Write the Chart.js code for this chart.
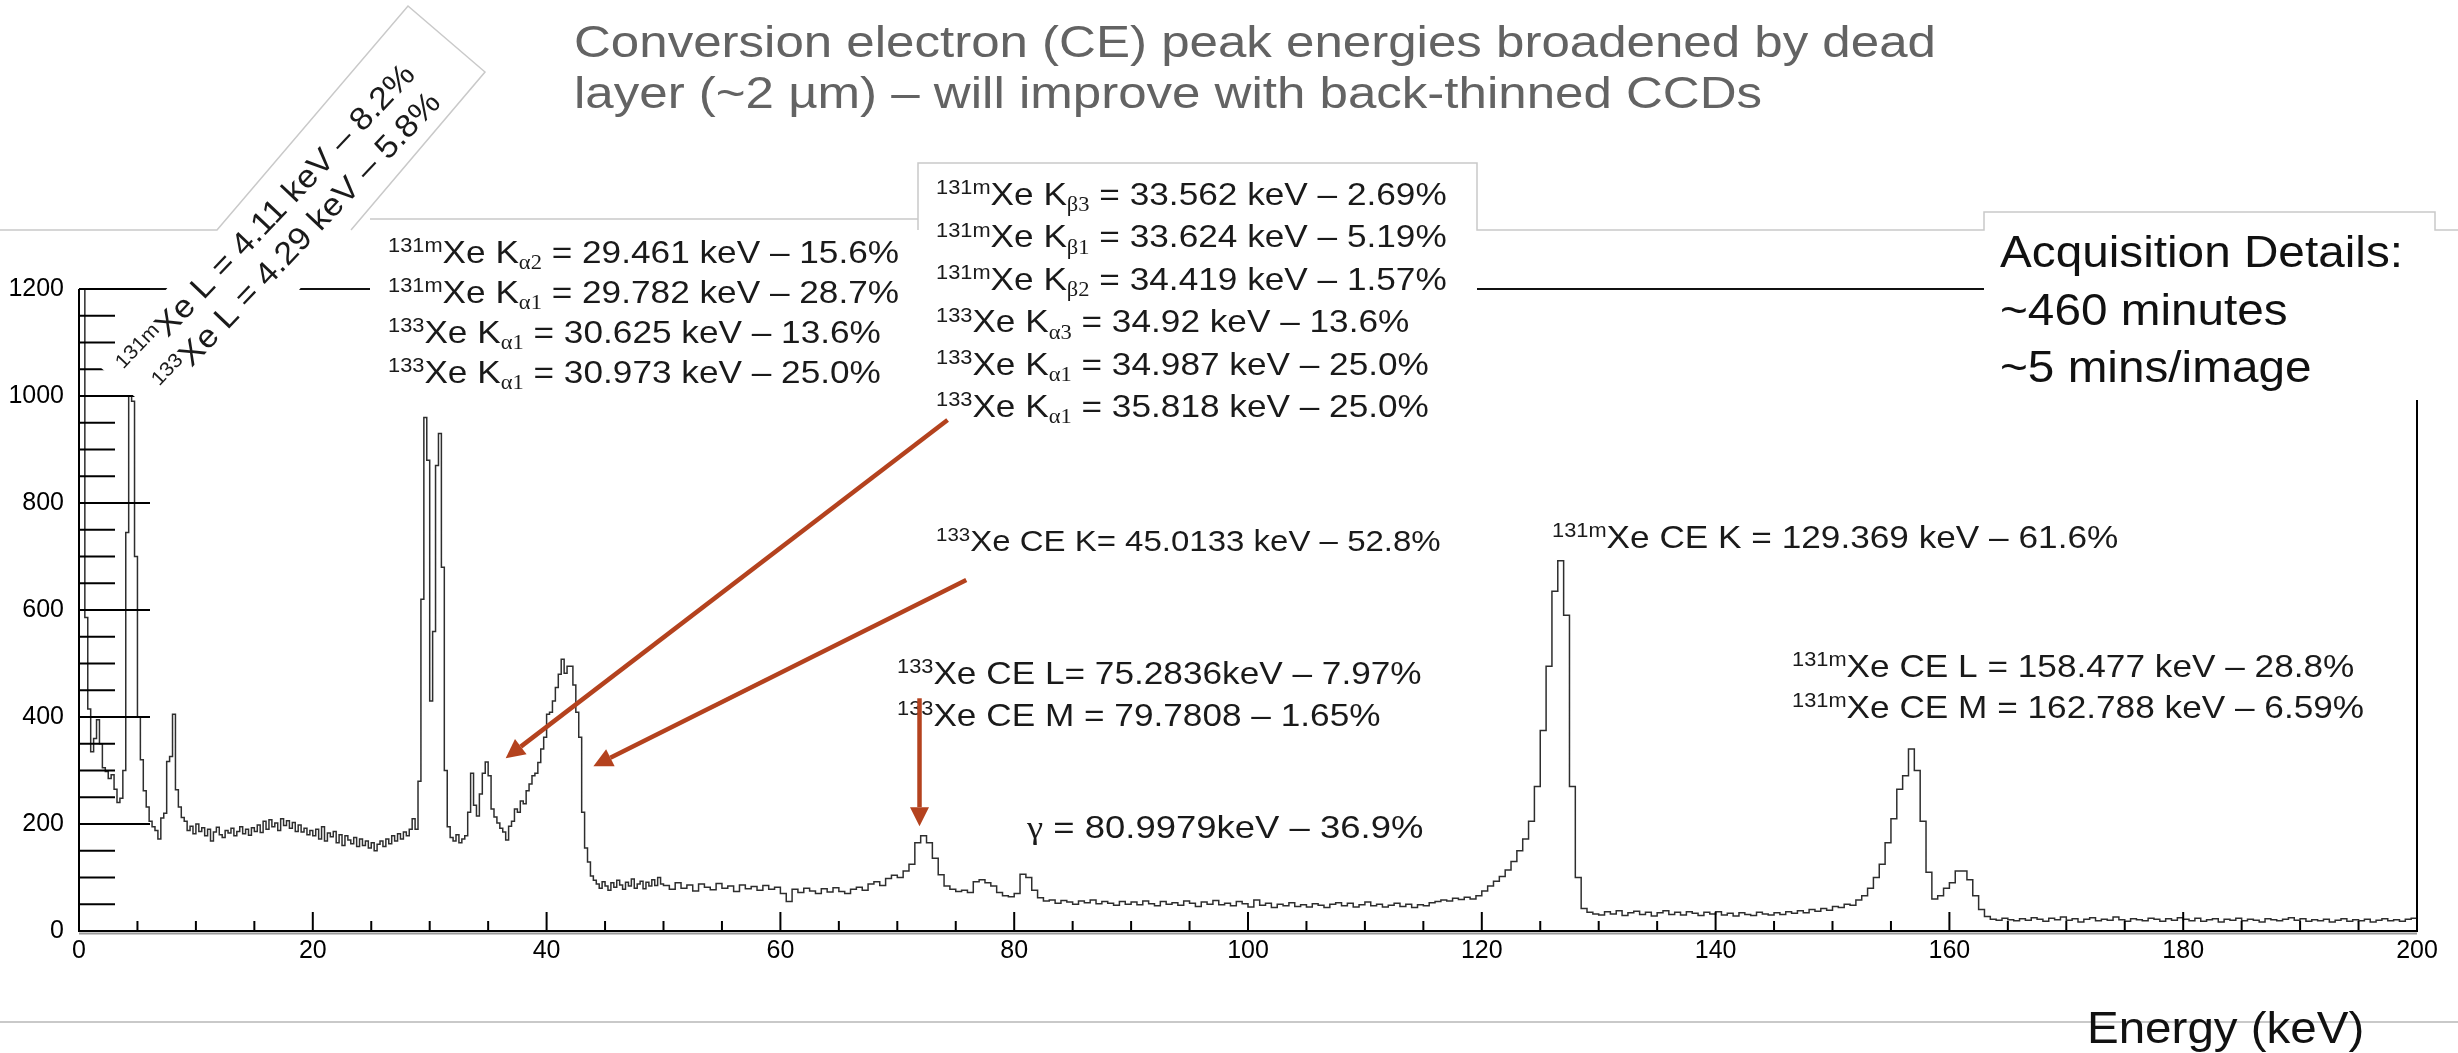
<!DOCTYPE html>
<html>
<head>
<meta charset="utf-8">
<title>Xe CCD spectrum</title>
<script src="https://cdn.jsdelivr.net/npm/chart.js@4.4.1/dist/chart.umd.min.js"></script>
<style>
  html, body { margin: 0; padding: 0; background: #fff; }
  #wrap { width: 2458px; height: 1053px; }
</style>
</head>
<body>
<div id="wrap"><canvas id="spectrum" width="2458" height="1053"></canvas></div>
<script>
// histogram: 0-50 keV in 0.25 keV bins, 50-200 keV in 0.5 keV bins
const fineBinWidth = 0.25;
const coarseStart = 50;
const coarseBinWidth = 0.5;

// one line = 1 keV
const countsFine = [
  1400, 1400, 586, 415,
  335, 360, 395, 350,
  305, 298, 285, 292,
  265, 240, 248, 300,
  745, 1000, 990, 700,
  400, 320, 262, 232,
  205, 195, 188, 172,
  211, 220, 317, 326,
  405, 264, 232, 212,
  205, 188, 196, 182,
  200, 186, 193, 178,
  190, 168, 185, 194,
  180, 175, 188, 183,
  192, 178, 186, 195,
  182, 190, 179, 193,
  186, 198, 184, 205,
  190, 208, 195, 202,
  188, 210, 197, 206,
  192, 203, 186, 198,
  185, 192, 180, 188,
  178, 190, 172, 195,
  168, 183, 176, 186,
  165, 180, 160, 178,
  170, 163, 175, 158,
  172, 160, 168, 155,
  165, 150, 162, 168,
  158, 172, 163, 178,
  168, 182, 172, 185,
  178, 190, 210, 190,
  280, 620, 960, 880,
  430, 560, 870, 930,
  680, 300, 195, 175,
  168, 180, 165, 172,
  178, 222, 295, 235,
  215, 256, 295, 316,
  290, 228, 213, 202,
  192, 185, 170, 196,
  205, 228, 222, 243,
  238, 262, 275, 290,
  295, 315, 340, 362,
  405, 409, 430, 455,
  480, 508, 482, 495,
  495, 460, 409, 362,
  222, 155, 129, 103,
  95, 88, 80, 92,
  84, 76, 90, 82,
  95, 86, 78, 91,
  84, 97, 80, 88,
  93, 79, 91, 84,
  96, 85, 100, 88
];

// one line = 5 keV
const countsCoarse = [
  85, 78, 90, 80, 86, 75, 88, 82, 77, 89,
  80, 84, 74, 86, 79, 83, 76, 85, 78, 82,
  70, 55, 78, 72, 80, 75, 70, 79, 73, 81,
  74, 70, 78, 82, 76, 88, 92, 85, 98, 104,
  100, 112, 125, 165, 178, 165, 136, 105, 84, 78,
  74, 76, 72, 92, 96, 90, 84, 72, 66, 64,
  70, 106, 100, 76, 62, 56, 58, 52, 57, 54,
  50, 56, 53, 58, 51, 55, 52, 48, 55, 50,
  54, 49, 56, 51, 47, 55, 50, 53, 48, 56,
  52, 46, 54, 50, 57, 49, 52, 47, 55, 51,
  45, 58, 48, 52, 44, 50, 47, 53, 46, 49,
  45, 51, 48, 44, 50, 53, 47, 52, 45, 49,
  54, 47, 50, 45, 48, 52, 46, 50, 44, 49,
  47, 53, 55, 58, 56, 61, 59, 63, 60, 66,
  75, 84, 93, 102, 114, 130, 150, 172, 205, 270,
  375, 495, 635, 692, 590, 270, 100, 42, 35, 32,
  30, 36, 32, 38, 29, 34, 37, 31, 35, 28,
  34, 38, 31, 35, 30, 36, 33, 29, 35, 32,
  36, 30, 33, 28, 34, 31, 29, 35, 32, 30,
  34, 31, 36, 33, 38, 34, 40, 37, 42, 39,
  46, 44, 50, 48, 58, 66, 80, 100, 125, 165,
  210, 265, 290, 340, 300, 205, 110, 60, 66, 80,
  90, 112, 112, 96, 66, 40, 27, 22, 20, 24,
  21, 19, 23, 20, 25, 22, 18, 24, 21, 26,
  20, 23, 17, 22, 25, 19, 22, 20, 26, 21,
  18, 23, 21, 19, 24, 22, 18, 23, 20, 25,
  22, 19, 24, 18, 21, 23, 17, 22, 20, 24,
  19, 22, 20, 17, 23, 21, 19, 22, 25, 20,
  23, 18, 21, 19, 22, 17, 20, 23, 18, 21,
  19, 22, 17, 20, 23, 19, 21, 18, 22, 24
];

const energyTicks = [0, 20, 40, 60, 80, 100, 120, 140, 160, 180, 200];
const countTicks = [0, 200, 400, 600, 800, 1000, 1200];
const energyMinorStep = 5;
const countMinorStep = 50;

const titleLines = [
  'Conversion electron (CE) peak energies broadened by dead',
  'layer (~2 µm) – will improve with back-thinned CCDs'
];
const lLines = [
  '^{131m}Xe L = 4.11 keV – 8.2%',
  '^{133}Xe L = 4.29 keV – 5.8%'
];
const kAlphaLines = [
  '^{131m}Xe K_{α2} = 29.461 keV – 15.6%',
  '^{131m}Xe K_{α1} = 29.782 keV – 28.7%',
  '^{133}Xe K_{α1} = 30.625 keV – 13.6%',
  '^{133}Xe K_{α1} = 30.973 keV – 25.0%'
];
const kBetaLines = [
  '^{131m}Xe K_{β3} = 33.562 keV – 2.69%',
  '^{131m}Xe K_{β1} = 33.624 keV – 5.19%',
  '^{131m}Xe K_{β2} = 34.419 keV – 1.57%',
  '^{133}Xe K_{α3} = 34.92 keV – 13.6%',
  '^{133}Xe K_{α1} = 34.987 keV – 25.0%',
  '^{133}Xe K_{α1} = 35.818 keV – 25.0%'
];
const acqLines = ['Acquisition Details:', '~460 minutes', '~5 mins/image'];

// single labels, placed in page pixels
const peakLabels = [
  { text: '^{133}Xe CE K= 45.0133 keV – 52.8%', x: 936, y: 551, size: 30 },
  { text: '^{131m}Xe CE K = 129.369 keV – 61.6%', x: 1552, y: 548 },
  { text: '^{133}Xe CE L= 75.2836keV – 7.97%', x: 897, y: 684 },
  { text: '^{133}Xe CE M = 79.7808 – 1.65%', x: 897, y: 726 },
  { text: '@{γ} = 80.9979keV – 36.9%', x: 1027, y: 838, stretch: 1.14 },
  { text: '^{131m}Xe CE L = 158.477 keV – 28.8%', x: 1792, y: 677 },
  { text: '^{131m}Xe CE M = 162.788 keV – 6.59%', x: 1792, y: 718 }
];

// arrows in data units [keV, counts]
const arrows = [
  { from: [74.3, 955], to: [36.5, 323] },
  { from: [75.9, 656], to: [44.0, 308] },
  { from: [71.9, 435], to: [71.9, 196] }
];

const SANS = '"Liberation Sans", Arial, Helvetica, sans-serif';
const SERIF = '"Liberation Serif", "Times New Roman", serif';
const ARROW = '#b4421e';
const EDGE = '#c9c9c9';

function parseRich(str) {
  const segs = [];
  const re = /([\^_@])\{([^}]*)\}|([^\^_@]+)/g;
  let m;
  while ((m = re.exec(str))) {
    if (m[1]) segs.push({ t: m[2], k: m[1] });
    else segs.push({ t: m[3], k: '' });
  }
  return segs;
}

function drawRich(ctx, str, x, y, size, opt) {
  const o = Object.assign({ color: '#1a1a1a', stretch: 1.1, rotate: 0 }, opt || {});
  ctx.save();
  ctx.translate(x, y);
  if (o.rotate) ctx.rotate(o.rotate);
  ctx.scale(o.stretch, 1);
  ctx.fillStyle = o.color;
  ctx.textBaseline = 'alphabetic';
  ctx.textAlign = 'left';
  let cx = 0;
  parseRich(str).forEach(s => {
    let fs = size, dy = 0, fam = SANS;
    if (s.k === '^') { fs = size * 0.62; dy = -size * 0.33; }
    else if (s.k === '_') { fs = size * 0.64; dy = size * 0.2; fam = SERIF; }
    else if (s.k === '@') { fam = SERIF; }
    ctx.font = fs + 'px ' + fam;
    ctx.fillText(s.t, cx, dy);
    cx += ctx.measureText(s.t).width;
  });
  ctx.restore();
}

function drawArrow(ctx, x1, y1, x2, y2) {
  const a = Math.atan2(y2 - y1, x2 - x1);
  const head = 19, half = 9.5;
  const bx = x2 - head * Math.cos(a), by = y2 - head * Math.sin(a);
  ctx.strokeStyle = ARROW;
  ctx.fillStyle = ARROW;
  ctx.lineWidth = 4.5;
  ctx.lineCap = 'butt';
  ctx.beginPath();
  ctx.moveTo(x1, y1);
  ctx.lineTo(bx, by);
  ctx.stroke();
  ctx.beginPath();
  ctx.moveTo(x2, y2);
  ctx.lineTo(bx + half * Math.sin(a), by - half * Math.cos(a));
  ctx.lineTo(bx - half * Math.sin(a), by + half * Math.cos(a));
  ctx.closePath();
  ctx.fill();
}

function line(ctx, pts, color, w) {
  ctx.strokeStyle = color;
  ctx.lineWidth = w;
  ctx.beginPath();
  pts.forEach((p, i) => i ? ctx.lineTo(p[0], p[1]) : ctx.moveTo(p[0], p[1]));
  ctx.stroke();
}

const slidePlugin = {
  id: 'slide',
  afterDraw(chart) {
    const ctx = chart.ctx;
    const a = chart.chartArea;
    const xs = chart.scales.x, ys = chart.scales.y;
    ctx.save();

    // ROOT style frame
    line(ctx, [[a.left, a.bottom + 2.5], [a.right, a.bottom + 2.5]], '#9a9a9a', 2);
    line(ctx, [[a.left, a.top], [a.right, a.top]], '#111', 2);
    line(ctx, [[a.left, a.top], [a.left, a.bottom], [a.right, a.bottom], [a.right, a.top]], '#000', 2);

    // inward ticks
    for (let v = 0; v <= 1200; v += countMinorStep) {
      const y = ys.getPixelForValue(v);
      const len = countTicks.includes(v) ? 71 : 36;
      line(ctx, [[a.left, y], [a.left + len, y]], '#000', 2);
    }
    for (let v = 0; v <= 200; v += energyMinorStep) {
      const x = xs.getPixelForValue(v);
      const len = energyTicks.includes(v) ? 19 : 10;
      line(ctx, [[x, a.bottom], [x, a.bottom - len]], '#000', 2);
    }

    // slide picture border
    line(ctx, [[0, 1022], [2458, 1022]], EDGE, 2);

    // white text boxes
    ctx.fillStyle = '#fff';
    const rot = [[100, 367], [408, 6], [485, 72], [177, 433]];
    ctx.beginPath();
    rot.forEach((p, i) => i ? ctx.lineTo(p[0], p[1]) : ctx.moveTo(p[0], p[1]));
    ctx.closePath();
    ctx.fill();
    ctx.fillRect(370, 219, 548, 181);
    ctx.fillRect(918, 163, 559, 266);
    ctx.fillRect(1984, 212, 451, 188);

    // visible outline above the picture
    line(ctx, [[0, 230], [217, 230], [408, 6], [485, 72], [351, 230]], EDGE, 1.5);
    line(ctx, [[370, 219], [918, 219]], EDGE, 1.5);
    line(ctx, [[918, 230], [918, 163], [1477, 163], [1477, 230], [1984, 230], [1984, 212], [2435, 212], [2435, 230], [2458, 230]], EDGE, 1.5);

    // texts
    titleLines.forEach((t, i) => drawRich(ctx, t, 574, 57 + i * 51, 44, { color: '#636363', stretch: 1.16 }));

    const ang = -46.5 * Math.PI / 180;
    const lStarts = [[131, 377], [167, 394]];
    lLines.forEach((t, i) => drawRich(ctx, t, lStarts[i][0], lStarts[i][1], 32, { rotate: ang, stretch: 1.08 }));

    kAlphaLines.forEach((t, i) => drawRich(ctx, t, 388, 263 + i * 40, 32));
    kBetaLines.forEach((t, i) => drawRich(ctx, t, 936, 205 + i * 42.4, 32));
    peakLabels.forEach(l => drawRich(ctx, l.text, l.x, l.y, l.size || 32, { stretch: l.stretch || 1.1 }));
    acqLines.forEach((t, i) => drawRich(ctx, t, 2000, 267 + i * 57.5, 45, { color: '#111', stretch: 1.06 }));
    drawRich(ctx, 'Energy (keV)', 2087, 1043, 44, { color: '#111', stretch: 1.08 });

    arrows.forEach(ar => drawArrow(ctx,
      xs.getPixelForValue(ar.from[0]), ys.getPixelForValue(ar.from[1]),
      xs.getPixelForValue(ar.to[0]), ys.getPixelForValue(ar.to[1])));

    ctx.restore();
  }
};

const points = [];
countsFine.forEach((c, i) => points.push({ x: i * fineBinWidth, y: c }));
countsCoarse.forEach((c, i) => points.push({ x: coarseStart + i * coarseBinWidth, y: c }));
points.push({ x: 200, y: countsCoarse[countsCoarse.length - 1] });

new Chart(document.getElementById('spectrum'), {
  type: 'line',
  data: {
    datasets: [{
      data: points,
      stepped: true,
      borderColor: '#2e2e2e',
      borderWidth: 1.5,
      pointRadius: 0,
      fill: false,
      tension: 0
    }]
  },
  options: {
    responsive: false,
    animation: false,
    layout: { padding: { top: 289, right: 41, bottom: 82, left: 0 } },
    plugins: {
      legend: { display: false },
      tooltip: { enabled: false },
      title: { display: false }
    },
    scales: {
      x: {
        type: 'linear',
        min: 0,
        max: 200,
        grid: { display: false, drawTicks: false },
        border: { display: false },
        afterBuildTicks: s => { s.ticks = energyTicks.map(v => ({ value: v })); },
        afterFit: s => { s.height = 40; },
        ticks: {
          font: { family: SANS, size: 25 },
          color: '#000',
          padding: 5,
          maxRotation: 0,
          autoSkip: false,
          callback: v => String(v)
        }
      },
      y: {
        min: 0,
        max: 1200,
        grid: { display: false, drawTicks: false },
        border: { display: false },
        afterBuildTicks: s => { s.ticks = countTicks.map(v => ({ value: v })); },
        afterFit: s => { s.width = 79; },
        ticks: {
          font: { family: SANS, size: 25 },
          color: '#000',
          padding: 15,
          callback: v => String(v)
        }
      }
    }
  },
  plugins: [slidePlugin]
});
</script>
</body>
</html>
